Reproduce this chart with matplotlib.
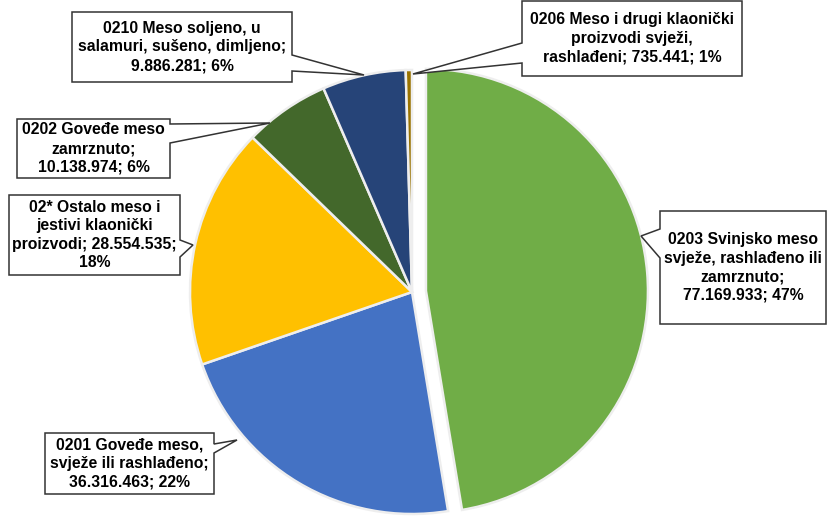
import matplotlib.pyplot as plt
from matplotlib.patches import Polygon

# podaci
names = [
    "0203 Svinjsko meso\nsvježe, rashlađeno ili\nzamrznuto",
    "0201 Goveđe meso,\nsvježe ili rashlađeno",
    "02* Ostalo meso i\njestivi klaonički\nproizvodi",
    "0202 Goveđe meso\nzamrznuto",
    "0210 Meso soljeno, u\nsalamuri, sušeno, dimljeno",
    "0206 Meso i drugi klaonički\nproizvodi svježi,\nrashlađeni",
]
values = [77169933, 36316463, 28554535, 10138974, 9886281, 735441]
percents = [47, 22, 18, 6, 6, 1]
colors = ["#70AD47", "#4472C4", "#FFC000", "#43682B", "#264478", "#997300"]

# kako je tekst prelomljen u oblačiću
templates = [
    "{n};\n{v}; {p}%",
    "{n};\n{v}; {p}%",
    "{n}; {v};\n{p}%",
    "{n};\n{v}; {p}%",
    "{n};\n{v}; {p}%",
    "{n}; {v}; {p}%",
]

# oblačići: x0, y0, x1, y1 (px, y prema dolje), strana, baza vrha, vrh
boxes = [
    (660, 211, 826, 324, "left", 229, 258, 641, 236),
    (45, 433, 214, 494, "right", 444, 453, 237, 440),
    (9, 195, 180, 275, "right", 240, 257, 193, 245),
    (17, 119, 170, 178, "right", 124, 143, 270, 123),
    (72, 12, 292, 82, "right", 55, 71, 364, 75),
    (522, 1, 742, 76, "left", 43, 63, 413, 74),
]

W, H = 827, 516

fig = plt.figure(figsize=(W / 100, H / 100), dpi=100)
ax = fig.add_axes([0, 0, 1, 1])

explode = [14, 0, 0, 0, 0, 0]
ax.pie(values, colors=colors, startangle=90, counterclock=False,
       center=(412, H - 292), radius=222, explode=explode,
       wedgeprops=dict(edgecolor="#EEEEEE", linewidth=1.8))


def fmt(v):
    return f"{v:,}".replace(",", ".")


for name, v, p, tpl, b in zip(names, values, percents, templates, boxes):
    x0, y0, x1, y1, side, b0, b1, tx, ty = b
    if side == "right":
        pts = [(x0, y0), (x1, y0), (x1, b0), (tx, ty), (x1, b1), (x1, y1), (x0, y1)]
    else:
        pts = [(x0, y0), (x1, y0), (x1, y1), (x0, y1), (x0, b1), (tx, ty), (x0, b0)]
    pts = [(x, H - y) for x, y in pts]
    ax.add_patch(Polygon(pts, closed=True, facecolor="white",
                         edgecolor="#333333", linewidth=1.1, zorder=5))
    txt = tpl.format(n=name, v=fmt(v), p=p)
    ax.text((x0 + x1) / 2, H - (y0 + y1) / 2, txt, ha="center", va="center",
            fontsize=11.3, fontweight="bold", family="Liberation Sans",
            linespacing=1.3, color="black", zorder=6)

ax.set_xlim(0, W)
ax.set_ylim(0, H)
ax.set_aspect("auto")
ax.axis("off")

plt.savefig("out.png", dpi=100)
